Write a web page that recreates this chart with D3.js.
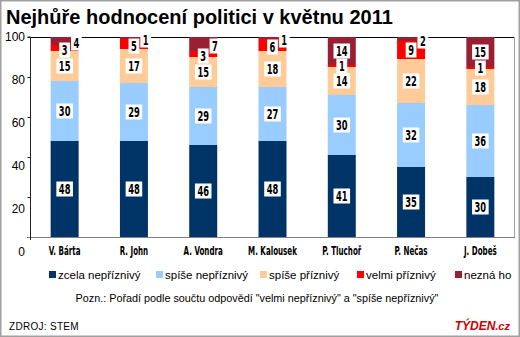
<!DOCTYPE html>
<html><head><meta charset="utf-8">
<script src="https://cdn.jsdelivr.net/npm/d3@7/dist/d3.min.js"></script>
<style>
body{margin:0;background:#fff;}
svg{display:block;}
</style>
</head><body>
<svg id="c" width="520" height="337"></svg>
<script>
const categories = ["V. Bárta","R. John","A. Vondra","M. Kalousek","P. Tluchoř","P. Nečas","J. Dobeš"];
const seriesNames = ["zcela nepříznivý","spíše nepříznivý","spíše příznivý","velmi příznivý","nezná ho"];
const zcelaNeprizn = [48,48,46,48,41,35,30];
const spiseNeprizn = [30,29,29,27,30,32,36];
const spisePrizn   = [15,17,15,18,14,22,18];
const velmiPrizn   = [3,5,3,6,1,9,1];
const neznaHo      = [4,1,7,1,14,2,15];
const yTicks = [0,20,40,60,80,100];
const colors = ["#003366","#99ccff","#ffcc99","#ff0000","#991f33"];

const series = [zcelaNeprizn, spiseNeprizn, spisePrizn, velmiPrizn, neznaHo];
const table = categories.map((c,i)=>{
  const o = {cat:c};
  seriesNames.forEach((s,j)=>o[s]=series[j][i]);
  return o;
});
const stacked = d3.stack().keys(seriesNames)(table);

const svg = d3.select("#c");
const W=520,H=337;
const pLeft=30, pRight=515, pTop=37, pBottom=237;
const narrow = "DejaVu Sans Condensed, DejaVu Sans, sans-serif";
const sx = 0.66;

// outer border
svg.append("rect").attr("x",0.5).attr("y",0.5).attr("width",W-1).attr("height",H-1)
  .attr("fill","#fff").attr("stroke","#a0a0a0").attr("stroke-width",2);

// title
svg.append("text").attr("x",6).attr("y",24)
  .attr("font-family","Liberation Sans, Arial, sans-serif").attr("font-weight","bold")
  .attr("font-size",20).attr("fill","#000").text("Nejhůře hodnocení politici v květnu 2011");

const x = d3.scaleBand().domain(categories).range([pLeft,pRight]).paddingInner(0.596).paddingOuter(0.298);
const y = d3.scaleLinear().domain([0,100]).range([pBottom,pTop]);
const yLab = d3.scaleLinear().domain([0,100]).range([252,37]);

// plot frame: top black, right gray
svg.append("line").attr("x1",pLeft).attr("x2",pRight).attr("y1",pTop+0.5).attr("y2",pTop+0.5).attr("stroke","#000");
svg.append("line").attr("x1",pRight-0.5).attr("x2",pRight-0.5).attr("y1",pTop).attr("y2",pBottom).attr("stroke","#a0a0a0");

// bars
const g = svg.append("g");
stacked.forEach((layer,j)=>{
  g.selectAll(null).data(layer).enter().append("rect")
    .attr("x",d=>x(d.data.cat))
    .attr("y",d=>y(d[1]))
    .attr("width",x.bandwidth())
    .attr("height",d=>y(d[0])-y(d[1]))
    .attr("fill",colors[j]);
});

// y axis
const yAxis = d3.axisLeft(y).tickValues(yTicks).tickSize(3).tickFormat("");
const ya = svg.append("g").attr("transform",`translate(${pLeft+0.5},0)`).call(yAxis);
ya.select(".domain").attr("stroke","#222").attr("d",`M-3,${pTop}H0V${pBottom}`);
ya.selectAll(".tick line").attr("stroke","#222");
// tick labels
svg.append("g").selectAll("text").data(yTicks).enter().append("text")
  .attr("x",25).attr("y",d=>yLab(d)).attr("dy","0.35em").attr("text-anchor","end")
  .attr("font-family","Liberation Sans, Arial, sans-serif").attr("font-size",12).attr("fill","#000")
  .text(d=>d);

// x axis baseline
const xAxis = d3.axisBottom(x).tickSize(0).tickFormat(d=>d);
const xa = svg.append("g").attr("transform",`translate(0,${pBottom+0.5})`).call(xAxis);
xa.select(".domain").attr("stroke","#808080").attr("d",`M${pLeft-3},0H${pRight}`);
xa.selectAll(".tick text").attr("y",0).attr("dy","0")
  .attr("transform",`translate(0,17) scale(${sx},1)`)
  .attr("font-family",narrow)
  .attr("font-weight","bold").attr("font-size",12).attr("fill","#000");
svg.append("line").attr("x1",pLeft+0.5).attr("x2",pLeft+0.5).attr("y1",pBottom).attr("y2",pBottom+3).attr("stroke","#222");

// value labels
const lab = svg.append("g").attr("font-family",narrow)
  .attr("font-weight","bold").attr("font-size",14);
stacked.forEach((layer,j)=>{
  layer.forEach(d=>{
    const v = d[1]-d[0];
    let cx = x(d.data.cat)+x.bandwidth()/2;
    let cy = (y(d[0])+y(d[1]))/2;
    if (j===seriesNames.length-1 && v<8){ cx += x.bandwidth()*0.42; cy += 2; }
    if (j===3 && v<8 && v>1){ cy += 2; }
    const t = lab.append("text").attr("x",0).attr("y",0).attr("dy","0.36em")
      .attr("transform",`translate(${cx},${cy}) scale(${sx},1)`)
      .attr("text-anchor","middle").attr("fill","#000").text(v);
    const w = t.node().getBBox().width*sx;
    lab.insert("rect","text:last-child")
      .attr("x",cx-w/2-2.5).attr("y",cy-7.5).attr("width",w+5).attr("height",15)
      .attr("fill","#fff");
  });
});

// legend
const legX = [49,156,260,357,455];
const leg = svg.append("g").attr("font-family","Liberation Sans, Arial, sans-serif").attr("font-size",11.5);
seriesNames.forEach((s,i)=>{
  leg.append("rect").attr("x",legX[i]).attr("y",271).attr("width",7).attr("height",7).attr("fill",colors[i]);
  leg.append("text").attr("x",legX[i]+9).attr("y",279).attr("fill","#000").text(s);
});

svg.append("text").attr("x",257).attr("y",302).attr("text-anchor","middle")
  .attr("font-family","Liberation Sans, Arial, sans-serif").attr("font-size",10.8).attr("fill","#000")
  .text("Pozn.: Pořadí podle součtu odpovědí \"velmi nepříznivý\" a \"spíše nepříznivý\"");

svg.append("text").attr("x",9).attr("y",330)
  .attr("font-family","Liberation Sans, Arial, sans-serif").attr("font-size",10).attr("letter-spacing",0.3).attr("fill","#000")
  .text("ZDROJ: STEM");

const ty = svg.append("text").attr("x",510).attr("y",330).attr("text-anchor","end")
  .attr("font-family","Liberation Sans, Arial, sans-serif").attr("font-weight","bold").attr("font-style","italic")
  .attr("fill","#cc0000");
ty.append("tspan").attr("font-size",12).text("TÝDEN");
ty.append("tspan").attr("font-size",11).text(".cz");
</script>
</body></html>
